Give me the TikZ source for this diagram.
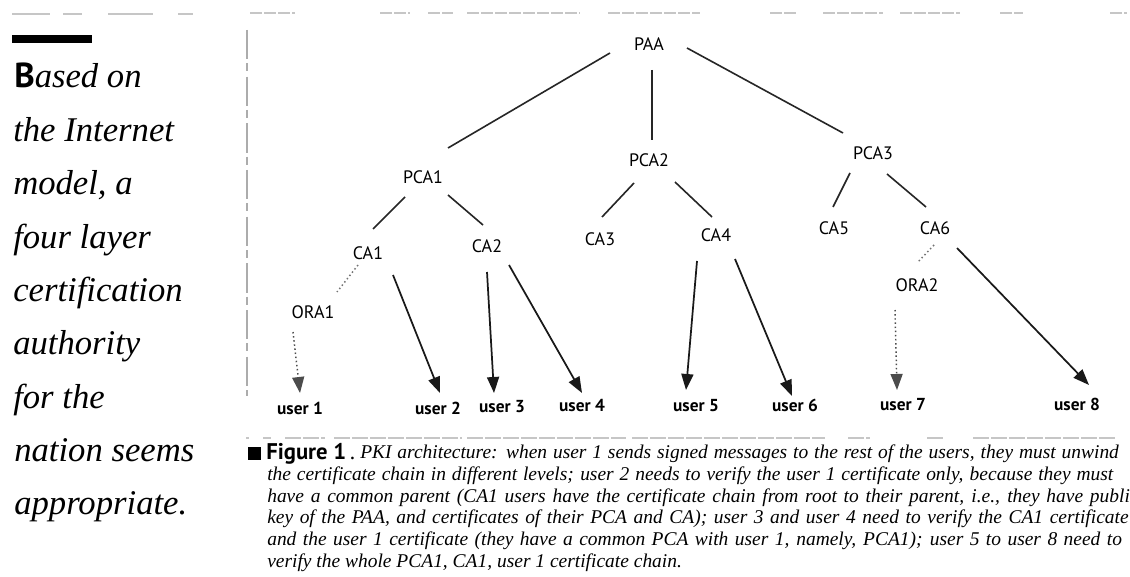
\documentclass[tikz,border=0pt]{standalone}
\usepackage{fontspec}
\setmainfont{Liberation Serif}
\newfontfamily\labelfont{PT Sans}
\newfontfamily\bodyfont{Liberation Serif}
\usetikzlibrary{arrows.meta,calc}

\begin{document}
\begin{tikzpicture}[x=0.75pt,y=-0.75pt,
  ca/.style={font=\labelfont\fontsize{13.5}{15}\selectfont, inner sep=0pt},
  usr/.style={font=\labelfont\bfseries\fontsize{13}{15}\selectfont, inner sep=0pt},
  edge/.style={line width=1.2pt, black!85},
  arr/.style={line width=1.3pt, black!90, -{Triangle[length=12pt,width=9pt]}},
  darr/.style={line width=1.1pt, black!70, dotted, -{Triangle[length=12pt,width=9pt]}},
  dline/.style={line width=1.1pt, black!55, dotted},
  side/.style={font=\fontsize{26}{30}\selectfont\itshape, anchor=base west, inner sep=0pt},
  capline/.style={font=\bodyfont\itshape\fontsize{14.6}{16}\selectfont, anchor=base west, inner sep=0pt},
  scan/.style={gray!45, line width=1pt}
]
\useasboundingbox[fill=white] (0,0) rectangle (1130,577);

% ---- margin column ----
\foreach \a/\b in {12/50, 63/82, 108/153, 178/193}
  \draw[scan, line width=1.3pt] (\a,14) -- (\b,14);
\fill (12,35) rectangle (92,43);
\node[side] (s1) at (14,88)    {{\labelfont\bfseries\upshape B}ased on};
\node[side] (s2) at (13,141.3) {the Internet};
\node[side] (s3) at (13,194.6) {model, a};
\node[side] (s4) at (13,248)   {four layer};
\node[side] (s5) at (13,301)   {certification};
\node[side] (s6) at (13,354.6) {authority};
\node[side] (s7) at (13,408)   {for the};
\node[side] (s8) at (14,461)   {nation seems};
\node[side] (s9) at (14,514.6) {appropriate.};

% ---- faint rules of the page ----
\foreach \a/\b in {250/295, 380/410, 428/453, 467/580, 608/700, 770/797, 823/883, 900/960, 1000/1023, 1110/1127}
  \draw[scan, dash pattern=on 9pt off 1.5pt] (\a,13) -- (\b,13);
\draw[scan, gray!65, dash pattern=on 22pt off 3pt on 6pt off 4pt] (247,30) -- (247,396);
\foreach \a/\b in {246/249, 263/271, 285/325, 334/462, 467/626, 632/825, 848/870, 927/945, 973/1115}
  \draw[scan, dash pattern=on 12pt off 1.5pt] (\a,438) -- (\b,438);

% ---- hierarchy ----
\node[ca] (PAA)  at (649,44)  {PAA};
\node[ca] (PCA1) at (423,177) {PCA1};
\node[ca] (PCA2) at (649,160) {PCA2};
\node[ca] (PCA3) at (873,153) {PCA3};
\node[ca] (CA1)  at (368,253) {CA1};
\node[ca] (CA2)  at (487,246) {CA2};
\node[ca] (CA3)  at (600,239) {CA3};
\node[ca] (CA4)  at (716,235) {CA4};
\node[ca] (CA5)  at (834,228) {CA5};
\node[ca] (CA6)  at (935,228) {CA6};
\node[ca] (ORA1) at (313,312) {ORA1};
\node[ca] (ORA2) at (917,285) {ORA2};
\node[usr] (u1) at (300,408)  {user 1};
\node[usr] (u2) at (438,408)  {user 2};
\node[usr] (u3) at (502,407)  {user 3};
\node[usr] (u4) at (582,406)  {user 4};
\node[usr] (u5) at (696,406)  {user 5};
\node[usr] (u6) at (795,405)  {user 6};
\node[usr] (u7) at (903,405)  {user 7};
\node[usr] (u8) at (1077,404) {user 8};

\draw[edge] ($(PAA)+(-39,9)$)  -- ($(PCA1)+(25,-29)$);
\draw[edge] ($(PAA)+(3,26)$)   -- ($(PCA2)+(3,-20)$);
\draw[edge] ($(PAA)+(38,4)$)   -- ($(PCA3)+(-30,-20)$);
\draw[edge] ($(PCA1)+(-18,20)$) -- ($(CA1)+(5,-24)$);
\draw[edge] ($(PCA1)+(25,18)$)  -- ($(CA2)+(-4,-21)$);
\draw[edge] ($(PCA2)+(-15,23)$) -- ($(CA3)+(2,-22)$);
\draw[edge] ($(PCA2)+(26,22)$)  -- ($(CA4)+(-4,-18)$);
\draw[edge] ($(PCA3)+(-23,20)$) -- ($(CA5)+(-1,-21)$);
\draw[edge] ($(PCA3)+(14,21)$)  -- ($(CA6)+(-9,-21)$);

\draw[dline] ($(CA1)+(-10,12)$) -- ($(ORA1)+(24,-20)$);
\draw[dline] ($(CA6)+(-1,17)$)  -- ($(ORA2)+(0,-22)$);

\draw[darr] ($(ORA1)+(-20,20)$) -- ($(u1)+(0,-15)$);
\draw[arr]  ($(CA1)+(25,22)$)   -- ($(u2)+(2,-15)$);
\draw[arr]  ($(CA2)+(0,26)$)    -- ($(u3)+(-8,-14)$);
\draw[arr]  ($(CA2)+(22,19)$)   -- ($(u4)+(0,-13)$);
\draw[arr]  ($(CA4)+(-19,26)$)  -- ($(u5)+(-10,-16)$);
\draw[arr]  ($(CA4)+(19,24)$)   -- ($(u6)+(-3,-9)$);
\draw[darr] ($(ORA2)+(-22,25)$) -- ($(u7)+(-6,-15)$);
\draw[arr]  ($(CA6)+(22,20)$)   -- ($(u8)+(12,-19)$);

% ---- caption ----
\fill (248,447) rectangle (261,460);
\node[anchor=base west, inner sep=0pt, font=\labelfont\fontsize{17}{19}\selectfont] (fig) at (266,459) {\textbf{Figure 1}\,.};
\node[capline] (c1) at (360,458) {\makebox[569pt][s]{PKI architecture: when user 1 sends signed messages to the rest of the users, they must unwind}};
\node[capline] (c2) at (267,480) {\makebox[634.5pt][s]{the certificate chain in different levels; user 2 needs to verify the user 1 certificate only, because they must}};
\node[capline] (c3) at (267,502) {\makebox[647pt][s]{have a common parent (CA1 users have the certificate chain from root to their parent, i.e., they have publi}};
\node[capline] (c4) at (267,523) {\makebox[646pt][s]{key of the PAA, and certificates of their PCA and CA); user 3 and user 4 need to verify the CA1 certificate}};
\node[capline] (c5) at (267,545) {\makebox[641pt][s]{and the user 1 certificate (they have a common PCA with user 1, namely, PCA1); user 5 to user 8 need to}};
\node[capline] (c6) at (267,567) {verify the whole PCA1, CA1, user 1 certificate chain.};
\end{tikzpicture}
\end{document}
